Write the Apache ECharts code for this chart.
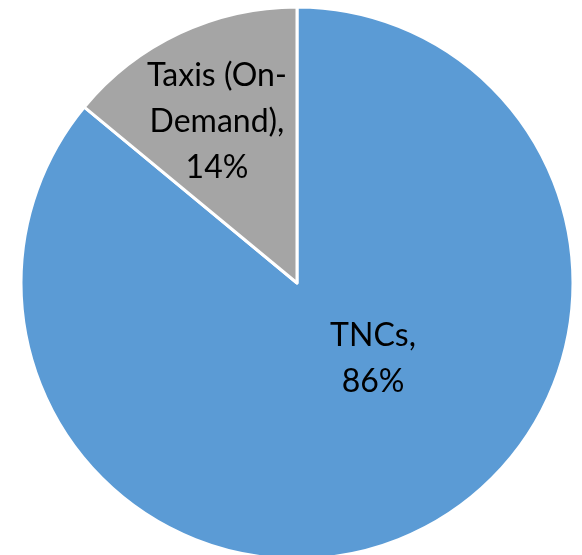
<!DOCTYPE html>
<html>
<head>
<meta charset="utf-8">
<script src="https://cdn.jsdelivr.net/npm/echarts@6/dist/echarts.min.js"></script>
<style>
  html, body { margin: 0; padding: 0; background: #fff; }
  #main { width: 582px; height: 555px; }
</style>
</head>
<body>
<div id="main"></div>
<script>
  // categories and shares (%)
  var categories = ['TNCs', 'Taxis (On-\nDemand)'];
  var shares = [86, 14];
  var colors = ['#5B9BD5', '#A5A5A5'];
  // label nudges from the default inside position
  var labelOffsets = [[16, -52], [-20, -34]];

  var chart = echarts.init(document.getElementById('main'));

  var data = categories.map(function (name, i) {
    return {
      name: name,
      value: shares[i],
      itemStyle: { color: colors[i] },
      label: { offset: labelOffsets[i] }
    };
  });

  var option = {
    animation: false,
    series: [
      {
        type: 'pie',
        center: [297, 283],
        radius: 276,
        startAngle: 90,
        clockwise: true,
        itemStyle: {
          borderColor: '#fff',
          borderWidth: 3
        },
        label: {
          show: true,
          position: 'inside',
          formatter: '{b},\n{c}%',
          color: '#000',
          fontFamily: 'Lato',
          fontSize: 32,
          lineHeight: 46,
          align: 'center'
        },
        labelLine: { show: false },
        emphasis: { disabled: true },
        data: data
      }
    ]
  };

  chart.setOption(option);
</script>
</body>
</html>
